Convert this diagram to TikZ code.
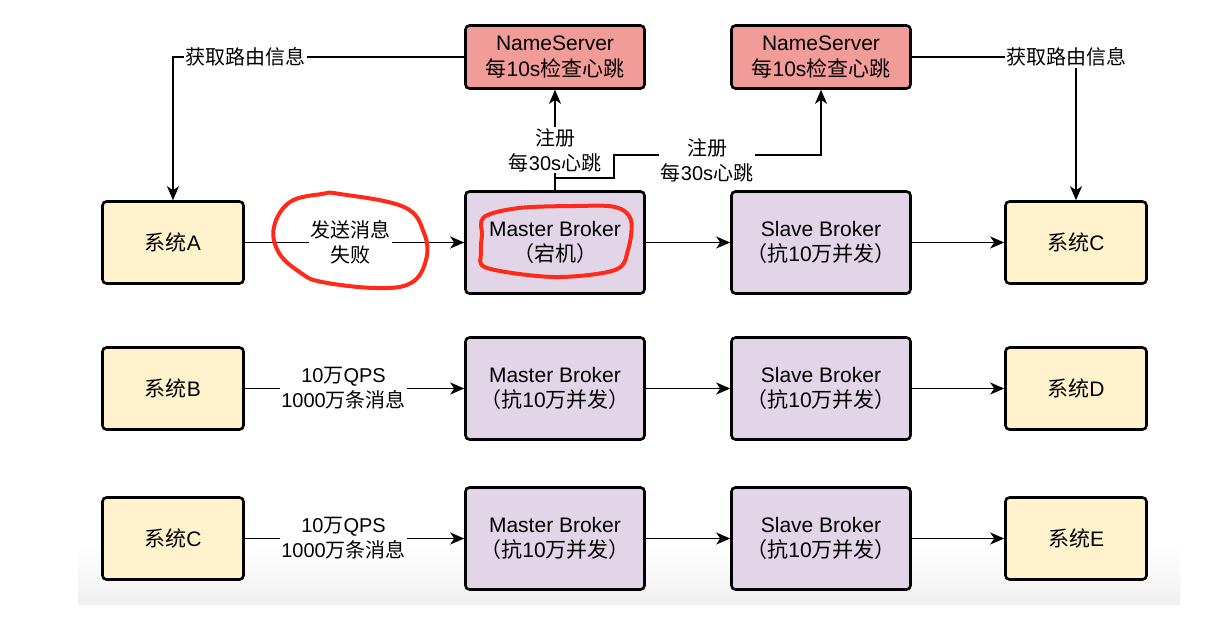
\documentclass[tikz,border=0pt]{standalone}
\usepackage{fontspec}
\setmainfont{Liberation Sans}
\newfontfamily\cjk{Noto Sans CJK SC}
\newcommand\zh[1]{{\cjk #1}}
\usetikzlibrary{arrows.meta}
\definecolor{sysfill}{HTML}{FFF2CC}
\definecolor{brkfill}{HTML}{E1D5E7}
\definecolor{nsfill}{HTML}{F19C99}
\definecolor{redpen}{HTML}{FF2A1A}
\tikzset{
  base/.style={draw=black, line width=2.6pt, rounded corners=4pt, align=center,
    font=\fontsize{21}{25.5}\selectfont, inner sep=2pt},
  sysbox/.style={base, fill=sysfill, minimum width=141pt, minimum height=82pt},
  brkbox/.style={base, fill=brkfill, minimum width=179pt, minimum height=102pt},
  nsbox/.style={base, fill=nsfill, minimum width=179pt, minimum height=63pt},
  lbl/.style={fill=white, inner sep=1.5pt, align=center, font=\fontsize{20}{25}\selectfont},
  conn/.style={line width=1.6pt, -{Stealth[length=14pt,width=12pt,inset=4pt]}},
  redmark/.style={draw=redpen, line width=4pt, line cap=round, line join=round}
}
\begin{document}
\begin{tikzpicture}[x=1pt,y=-1pt]
\useasboundingbox (0,0) rectangle (1212,637);
\fill[white] (0,0) rectangle (1212,637);
\shade[top color=white, bottom color=black!6] (78,545) rectangle (1180,604);

% name servers
\node[nsbox] (ns1) at (555,57) {NameServer\\\zh{每}10s\zh{检查心跳}};
\node[nsbox] (ns2) at (821,57) {NameServer\\\zh{每}10s\zh{检查心跳}};

% row 1
\node[sysbox] (sysA) at (173,242.5) {\zh{系统}A};
\node[brkbox] (m1) at (555,242.5) {Master Broker\\\zh{（宕机）}};
\node[brkbox] (s1) at (821,242.5) {Slave Broker\\\zh{（抗}10\zh{万并发）}};
\node[sysbox] (sysC1) at (1076,242.5) {\zh{系统}C};

% row 2
\node[sysbox] (sysB) at (173,388.5) {\zh{系统}B};
\node[brkbox] (m2) at (555,388.5) {Master Broker\\\zh{（抗}10\zh{万并发）}};
\node[brkbox] (s2) at (821,388.5) {Slave Broker\\\zh{（抗}10\zh{万并发）}};
\node[sysbox] (sysD) at (1076,388.5) {\zh{系统}D};

% row 3
\node[sysbox] (sysC2) at (173,538.5) {\zh{系统}C};
\node[brkbox] (m3) at (555,538.5) {Master Broker\\\zh{（抗}10\zh{万并发）}};
\node[brkbox] (s3) at (821,538.5) {Slave Broker\\\zh{（抗}10\zh{万并发）}};
\node[sysbox] (sysE) at (1076,538.5) {\zh{系统}E};

% routing info
\draw[conn] (ns1.west) -| (sysA.north) node[lbl, pos=0.375] {\zh{获取路由信息}};
\draw[conn] (ns2.east) -| (sysC1.north) node[lbl, pos=0.47] {\zh{获取路由信息}};

% registration
\draw[conn] (m1.north) -- (ns1.south) node[lbl, pos=0.4] {\zh{注册}\\\zh{每}30s\zh{心跳}};
\coordinate (r1) at (614,155);
\draw[conn] (m1.north) -- (m1.north |- 0,178) -| (r1) -| (ns2.south);
\node[lbl] (reg2) at (707,160) {\zh{注册}\\\zh{每}30s\zh{心跳}};

% row arrows
\draw[conn] (sysA.east) -- (m1.west) node[lbl, pos=0.48] {\zh{发送消息}\\\zh{失败}};
\draw[conn] (m1.east) -- (s1.west);
\draw[conn] (s1.east) -- (sysC1.west);

\draw[conn] (sysB.east) -- (m2.west) node[lbl, pos=0.45] {10\zh{万}QPS\\1000\zh{万条消息}};
\draw[conn] (m2.east) -- (s2.west);
\draw[conn] (s2.east) -- (sysD.west);

\draw[conn] (sysC2.east) -- (m3.west) node[lbl, pos=0.45] {10\zh{万}QPS\\1000\zh{万条消息}};
\draw[conn] (m3.east) -- (s3.west);
\draw[conn] (s3.east) -- (sysE.west);

% red hand-drawn marks
\draw[redmark] plot[smooth cycle, tension=0.65] coordinates {
  (340,194) (404,207) (424,233) (426,260) (411,283) (376,288) (322,282)
  (301,273) (279,253) (274,227) (290,202) (322,194)};
\draw[redmark] plot[smooth cycle, tension=0.55] coordinates {
  (484,217) (519,208) (575,206) (615,207) (631,220) (628,250) (615,270)
  (554,277) (487,268) (481,253) (482,235)};
\end{tikzpicture}
\end{document}
